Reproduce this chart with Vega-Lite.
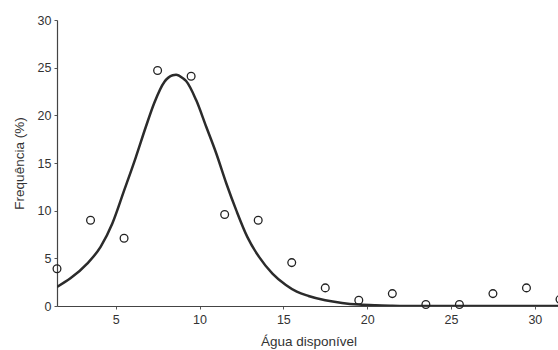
{
  "$schema": "https://vega.github.io/schema/vega-lite/v6.json",
  "autosize": {"type": "none"},
  "padding": {"left": 57, "top": 20, "right": 0, "bottom": 44},
  "width": 503,
  "height": 286,
  "background": "white",
  "config": {
    "view": {"stroke": null},
    "axis": {
      "labelFont": "Liberation Sans",
      "titleFont": "Liberation Sans",
      "labelFontSize": 12.5,
      "titleFontSize": 13.5,
      "titleFontWeight": "normal",
      "labelColor": "#333",
      "titleColor": "#333",
      "domainColor": "#444",
      "domainWidth": 1.2,
      "tickColor": "#555",
      "grid": false
    }
  },
  "datasets": {
    "obs": [
      {"agua": 1.5, "freq": 3.9},
      {"agua": 3.5, "freq": 9.0},
      {"agua": 5.5, "freq": 7.1},
      {"agua": 7.5, "freq": 24.7},
      {"agua": 9.5, "freq": 24.1},
      {"agua": 11.5, "freq": 9.6},
      {"agua": 13.5, "freq": 9.0},
      {"agua": 15.5, "freq": 4.55},
      {"agua": 17.5, "freq": 1.9},
      {"agua": 19.5, "freq": 0.6},
      {"agua": 21.5, "freq": 1.3},
      {"agua": 23.5, "freq": 0.15},
      {"agua": 25.5, "freq": 0.15},
      {"agua": 27.5, "freq": 1.3},
      {"agua": 29.5, "freq": 1.9},
      {"agua": 31.5, "freq": 0.7}
    ],
    "fit": [
      {"agua": 1.5, "freq": 2.0},
      {"agua": 2.3, "freq": 2.9},
      {"agua": 3.3, "freq": 4.45},
      {"agua": 4.1, "freq": 6.2},
      {"agua": 4.8, "freq": 8.65},
      {"agua": 5.5, "freq": 12.1},
      {"agua": 6.2, "freq": 15.6},
      {"agua": 6.8, "freq": 18.8},
      {"agua": 7.3, "freq": 21.3},
      {"agua": 7.9, "freq": 23.5},
      {"agua": 8.4, "freq": 24.2},
      {"agua": 8.6, "freq": 24.25},
      {"agua": 9.0, "freq": 23.9},
      {"agua": 9.2, "freq": 23.6},
      {"agua": 9.8, "freq": 21.6},
      {"agua": 10.4, "freq": 18.8},
      {"agua": 11.0, "freq": 16.0},
      {"agua": 11.6, "freq": 12.85},
      {"agua": 12.2, "freq": 10.0},
      {"agua": 12.85, "freq": 7.25},
      {"agua": 13.55, "freq": 5.15},
      {"agua": 14.35, "freq": 3.4},
      {"agua": 15.15, "freq": 2.2},
      {"agua": 15.8, "freq": 1.5},
      {"agua": 16.5, "freq": 1.05},
      {"agua": 17.5, "freq": 0.6},
      {"agua": 18.5, "freq": 0.32},
      {"agua": 19.5, "freq": 0.15},
      {"agua": 20.5, "freq": 0.07},
      {"agua": 21.5, "freq": 0.03},
      {"agua": 23.0, "freq": 0.0},
      {"agua": 31.5, "freq": 0.0}
    ]
  },
  "encoding": {
    "x": {
      "field": "agua",
      "type": "quantitative",
      "scale": {"domain": [1.5, 31.5], "nice": false, "zero": false},
      "axis": {"title": "Água disponível", "values": [5, 10, 15, 20, 25, 30], "tickSize": 3, "labelPadding": 4, "titlePadding": 9}
    },
    "y": {
      "field": "freq",
      "type": "quantitative",
      "scale": {"domain": [0, 30], "nice": false},
      "axis": {"title": "Frequência (%)", "values": [0, 5, 10, 15, 20, 25, 30], "tickSize": 3, "labelPadding": 3, "titlePadding": 11}
    }
  },
  "layer": [
    {
      "data": {"name": "fit"},
      "mark": {"type": "line", "color": "#2b2b2b", "strokeWidth": 2.5, "interpolate": "monotone", "clip": true}
    },
    {
      "data": {"name": "obs"},
      "mark": {"type": "point", "shape": "circle", "filled": false, "color": "#222", "strokeWidth": 1.3, "size": 60, "opacity": 1}
    }
  ]
}
